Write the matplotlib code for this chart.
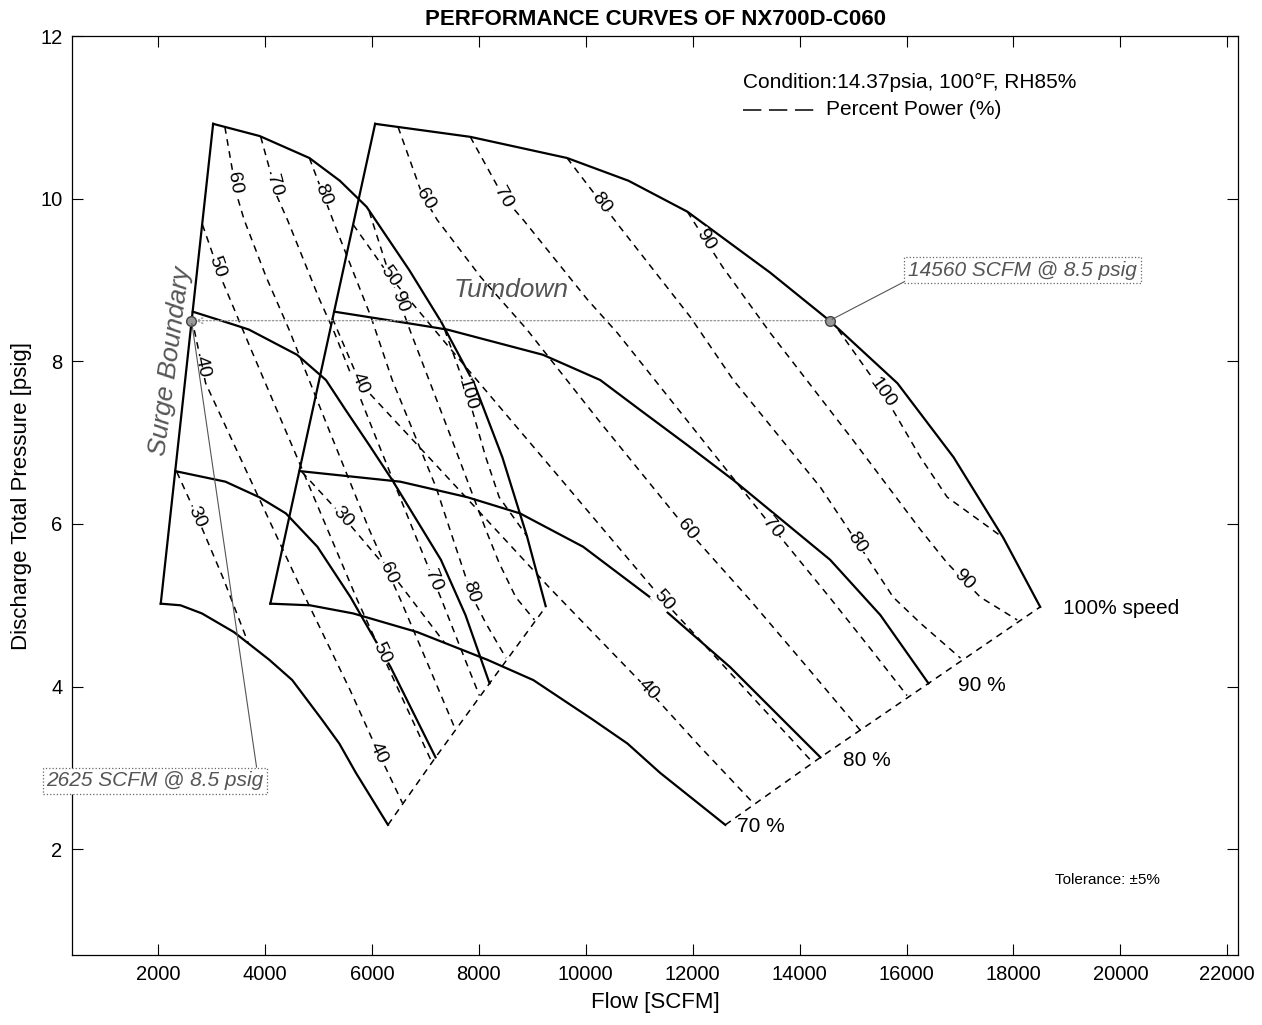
import numpy as np
import matplotlib.pyplot as plt

plt.rcParams['font.family'] = ['Liberation Sans', 'DejaVu Sans']

# speed curves of the full-flow map (right), flow [SCFM] / pressure [psig]
hi_spd100_x = [6060, 7840, 9650, 10800, 11900, 13450, 14560, 15830, 16880, 17810, 18500]
hi_spd100_y = [10.92, 10.76, 10.50, 10.22, 9.84, 9.09, 8.50, 7.73, 6.82, 5.83, 4.98]
hi_spd90_x = [5300, 6850, 7410, 9200, 10270, 11020, 11900, 12760, 14570, 15510, 16410]
hi_spd90_y = [8.61, 8.45, 8.39, 8.08, 7.77, 7.40, 6.97, 6.54, 5.56, 4.88, 4.04]
hi_spd80_x = [4650, 6530, 7780, 8770, 9950, 11200, 12700, 14390]
hi_spd80_y = [6.65, 6.52, 6.33, 6.13, 5.72, 5.10, 4.24, 3.13]
hi_spd70_x = [4100, 4840, 5650, 6850, 8160, 9020, 10140, 10780, 11390, 12610]
hi_spd70_y = [5.02, 5.00, 4.90, 4.67, 4.33, 4.08, 3.59, 3.30, 2.94, 2.30]
hi_surge_x = [4100, 6060]
hi_surge_y = [5.02, 10.92]
hi_choke_x = [12610, 14390, 16410, 18500]
hi_choke_y = [2.30, 3.13, 4.04, 4.98]

# speed curves of the turndown map (left)
lo_spd100_x = [3030, 3900, 4830, 5400, 5900, 6700, 7300, 7910, 8440, 8900, 9250]
lo_spd100_y = [10.92, 10.77, 10.50, 10.22, 9.90, 9.12, 8.48, 7.73, 6.82, 5.85, 4.99]
lo_spd90_x = [2650, 3420, 3700, 4600, 5140, 5510, 5950, 6380, 7290, 7750, 8200]
lo_spd90_y = [8.61, 8.45, 8.39, 8.08, 7.77, 7.40, 6.97, 6.54, 5.56, 4.88, 4.04]
lo_spd80_x = [2320, 3260, 3890, 4390, 4980, 5600, 6350, 7190]
lo_spd80_y = [6.65, 6.52, 6.33, 6.13, 5.72, 5.10, 4.24, 3.13]
lo_spd70_x = [2050, 2420, 2820, 3420, 4080, 4510, 5070, 5390, 5700, 6300]
lo_spd70_y = [5.02, 5.00, 4.90, 4.67, 4.33, 4.08, 3.59, 3.30, 2.94, 2.30]
lo_surge_x = [2050, 3030]
lo_surge_y = [5.02, 10.92]
lo_choke_x = [6300, 7190, 8200, 9250]
lo_choke_y = [2.30, 3.13, 4.04, 4.98]

# percent power lines, full-flow map
hi_p30_x = [4690, 5460, 6440, 7370]
hi_p30_y = [6.64, 6.09, 5.33, 4.53]
hi_p40_x = [5260, 5780, 7460, 9330, 11170, 12140, 13130]
hi_p40_y = [8.53, 7.73, 6.54, 5.21, 3.96, 3.26, 2.57]
hi_p50_x = [5650, 6340, 7460, 9330, 11450, 12140, 13260, 14200]
hi_p50_y = [9.68, 9.04, 8.16, 6.71, 5.06, 4.57, 3.77, 3.10]
hi_p60_x = [6490, 6940, 7220, 8030, 8900, 10270, 11900, 13080, 14140, 15140]
hi_p60_y = [10.88, 10.05, 9.74, 9.04, 8.39, 7.25, 5.93, 5.06, 4.24, 3.46]
hi_p70_x = [7840, 8460, 8830, 10030, 10590, 12140, 13490, 14570, 15320, 16010]
hi_p70_y = [10.76, 10.02, 9.74, 8.76, 8.35, 7.07, 5.96, 5.09, 4.47, 3.89]
hi_p80_x = [9650, 10640, 11950, 12760, 14390, 15080, 15750, 16260, 17010]
hi_p80_y = [10.50, 9.65, 8.55, 7.77, 6.45, 5.77, 5.10, 4.78, 4.35]
hi_p90_x = [11900, 12560, 13450, 15000, 16260, 16760, 17380, 18070]
hi_p90_y = [9.84, 9.16, 8.35, 7.03, 5.93, 5.52, 5.10, 4.82]
hi_p100_x = [14720, 15550, 16260, 16760, 17810]
hi_p100_y = [8.39, 7.62, 6.82, 6.33, 5.83]

# percent power lines, turndown map
lo_p30_x = [2350, 2730, 3220, 3690]
lo_p30_y = [6.64, 6.09, 5.33, 4.53]
lo_p40_x = [2630, 2890, 3730, 4670, 5590, 6070, 6570]
lo_p40_y = [8.53, 7.73, 6.54, 5.21, 3.96, 3.26, 2.57]
lo_p50_x = [2830, 3170, 3730, 4670, 5730, 6070, 6630, 7100]
lo_p50_y = [9.68, 9.04, 8.16, 6.71, 5.06, 4.57, 3.77, 3.10]
lo_p60_x = [3250, 3470, 3610, 4020, 4450, 5140, 5950, 6540, 7070, 7570]
lo_p60_y = [10.88, 10.05, 9.74, 9.04, 8.39, 7.25, 5.93, 5.06, 4.24, 3.46]
lo_p70_x = [3920, 4230, 4420, 5020, 5300, 6070, 6750, 7290, 7660, 8010]
lo_p70_y = [10.76, 10.02, 9.74, 8.76, 8.35, 7.07, 5.96, 5.09, 4.47, 3.89]
lo_p80_x = [4830, 5320, 5980, 6380, 7200, 7540, 7880, 8130, 8510]
lo_p80_y = [10.50, 9.65, 8.55, 7.77, 6.45, 5.77, 5.10, 4.78, 4.35]
lo_p90_x = [5950, 6280, 6730, 7500, 8130, 8380, 8690, 9040]
lo_p90_y = [9.84, 9.16, 8.35, 7.03, 5.93, 5.52, 5.10, 4.82]
lo_p100_x = [7360, 7780, 8130, 8380, 8900]
lo_p100_y = [8.39, 7.62, 6.82, 6.33, 5.85]

# operating points at 8.5 psig
op_flow = [2625, 14560]
op_press = [8.5, 8.5]

speed_names = ['70 %', '80 %', '90 %', '100% speed']

fig = plt.figure(figsize=(12.62, 10.25), dpi=100)
ax = fig.add_axes([72 / 1262, 70 / 1025, 1166 / 1262, 919 / 1025])
ax.set_xlim(390, 22200)
ax.set_ylim(0.7, 12)

dash = dict(color='black', lw=1.1, dashes=(4.4, 3.6))
solid = dict(color='black', lw=1.6)

# power lines (label levels given in psig along each line)
power_lines = [
    (hi_p30_x, hi_p30_y, '30', [6.09]),
    (hi_p40_x, hi_p40_y, '40', [7.73, 3.96]),
    (hi_p50_x, hi_p50_y, '50', [9.04, 5.06]),
    (hi_p60_x, hi_p60_y, '60', [9.99, 5.93]),
    (hi_p70_x, hi_p70_y, '70', [10.02, 5.96]),
    (hi_p80_x, hi_p80_y, '80', [9.95, 5.77]),
    (hi_p90_x, hi_p90_y, '90', [9.49, 5.31]),
    (hi_p100_x, hi_p100_y, '100', [7.62]),
    (lo_p30_x, lo_p30_y, '30', [6.09]),
    (lo_p40_x, lo_p40_y, '40', [7.93, 3.19]),
    (lo_p50_x, lo_p50_y, '50', [9.16, 4.41]),
    (lo_p60_x, lo_p60_y, '60', [10.19, 5.40]),
    (lo_p70_x, lo_p70_y, '70', [10.17, 5.31]),
    (lo_p80_x, lo_p80_y, '80', [10.05, 5.16]),
    (lo_p90_x, lo_p90_y, '90', [8.73]),
    (lo_p100_x, lo_p100_y, '100', [7.59]),
]
for xs, ys, txt, levels in power_lines:
    ax.plot(xs, ys, **dash)

ax.plot(hi_choke_x, hi_choke_y, **dash)
ax.plot(lo_choke_x, lo_choke_y, **dash)

# speed curves and surge lines
hi_speeds = [(hi_spd70_x, hi_spd70_y), (hi_spd80_x, hi_spd80_y),
             (hi_spd90_x, hi_spd90_y), (hi_spd100_x, hi_spd100_y)]
lo_speeds = [(lo_spd70_x, lo_spd70_y), (lo_spd80_x, lo_spd80_y),
             (lo_spd90_x, lo_spd90_y), (lo_spd100_x, lo_spd100_y)]
for xs, ys in hi_speeds + lo_speeds:
    ax.plot(xs, ys, **solid)
ax.plot(hi_surge_x, hi_surge_y, **solid)
ax.plot(lo_surge_x, lo_surge_y, **solid)

# speed names at the end of the right map curves
offsets = [(8.5, -1), (16, -2), (21.5, -1.5), (16.5, -1)]
for (xs, ys), name, off in zip(hi_speeds, speed_names, offsets):
    ax.annotate(name, xy=(xs[-1], ys[-1]), xytext=off, textcoords='offset points',
                ha='left', va='center', fontsize=15)


# inline labels on the power lines, rotated along the line on screen
def label_line(xs, ys, y_at, txt):
    xs = np.asarray(xs, float)
    ys = np.asarray(ys, float)
    x_at = np.interp(y_at, ys[::-1], xs[::-1])
    pts = ax.transData.transform(np.column_stack([xs, ys]))
    i = int(np.searchsorted(-ys, -y_at))
    i = min(max(i, 1), len(xs) - 1)
    d = pts[i] - pts[i - 1]
    ang = np.degrees(np.arctan2(d[1], d[0]))
    ax.text(x_at, y_at, txt, rotation=ang, rotation_mode='anchor', ha='center', va='center',
            fontsize=14, bbox=dict(fc='white', ec='none', pad=0.2), zorder=3)


for xs, ys, txt, levels in power_lines:
    for lv in levels:
        label_line(xs, ys, lv, txt)

# operating points and the turndown arrow
ax.annotate('', xy=(op_flow[0], op_press[0]), xytext=(op_flow[1], op_press[1]),
            arrowprops=dict(arrowstyle='->', color='#999999', lw=1.0, ls=':',
                            shrinkA=0, shrinkB=3))
ax.plot(op_flow, op_press, 'o', ls='none', ms=7, mfc='#999999', mec='#444444', mew=1, zorder=4)

box = dict(boxstyle='square,pad=0.18', fc='white', ec='#666666', lw=0.9, ls=':')
ax.annotate('14560 SCFM @ 8.5 psig', xy=(op_flow[1], op_press[1]), xytext=(18170, 9.12),
            ha='center', va='center', fontsize=15, style='italic', color='#555555', bbox=box,
            arrowprops=dict(arrowstyle='-', color='#555555', lw=0.8, relpos=(0, 0),
                            shrinkA=0, shrinkB=2), zorder=5)
ax.annotate('2625 SCFM @ 8.5 psig', xy=(op_flow[0], op_press[0]), xytext=(1944, 2.84),
            ha='center', va='center', fontsize=15, style='italic', color='#555555', bbox=box,
            arrowprops=dict(arrowstyle='-', color='#555555', lw=0.8, relpos=(0.97, 1),
                            shrinkA=0, shrinkB=2), zorder=5, annotation_clip=False)

ax.text(8605, 8.88, 'Turndown', fontsize=19, style='italic', color='#555555',
        ha='center', va='center')
ax.text(2225, 8.0, 'Surge Boundary', fontsize=19, style='italic', color='#555555',
        ha='center', va='center', rotation=82.5)

# condition note and legend sample
ax.text(0.5755, 0.949, 'Condition:14.37psia, 100\u00b0F, RH85%', transform=ax.transAxes,
        fontsize=15, ha='left', va='center')
ax.plot([0.5755, 0.6398], [0.9195, 0.9195], transform=ax.transAxes, color='black',
        lw=1.1, dashes=(12, 5))
ax.text(0.6466, 0.9195, 'Percent Power (%)', transform=ax.transAxes,
        fontsize=15, ha='left', va='center')
ax.text(0.843, 0.0816, 'Tolerance: \u00b15%', transform=ax.transAxes,
        fontsize=11, ha='left', va='center')

ax.set_xticks(np.arange(2000, 22001, 2000))
ax.set_yticks(np.arange(2, 13, 2))
ax.tick_params(direction='in', length=8, width=0.8, top=True, right=True,
               labelsize=14.5, pad=7)
for s in ax.spines.values():
    s.set_linewidth(0.9)

ax.set_title('PERFORMANCE CURVES OF NX700D-C060', fontsize=16, fontweight='bold', pad=8)
ax.set_xlabel('Flow [SCFM]', fontsize=16, labelpad=6)
ax.set_ylabel('Discharge Total Pressure [psig]', fontsize=16, labelpad=6)

plt.savefig('out.png', dpi=100)
